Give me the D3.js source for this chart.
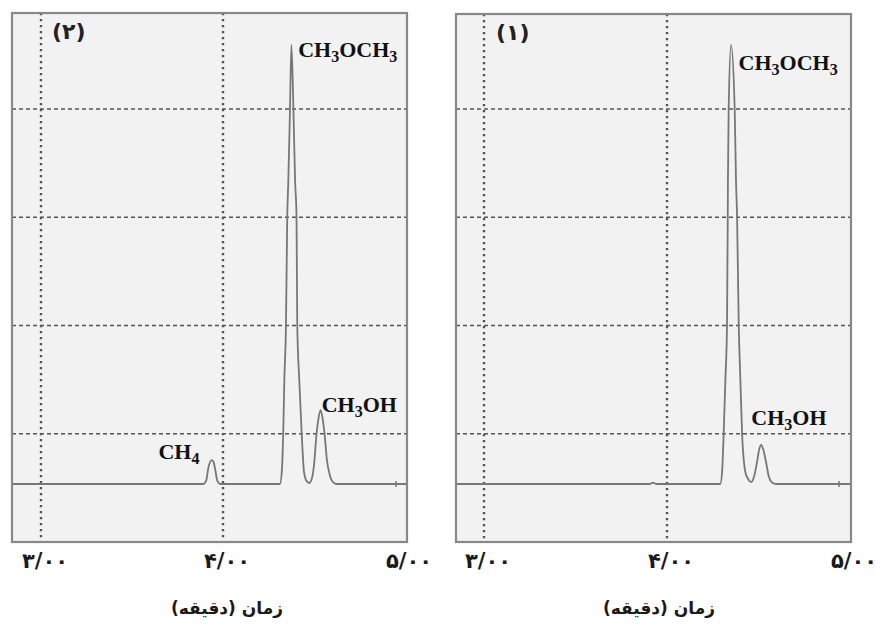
<!DOCTYPE html>
<html>
<head>
<meta charset="utf-8">
<script src="https://cdn.jsdelivr.net/npm/d3@7/dist/d3.min.js"></script>
<style>
  html, body { margin: 0; padding: 0; background: #ffffff; }
  svg { display: block; }
</style>
</head>
<body>
<svg id="chart" width="876" height="624"></svg>
<script>
// ---------------- DATA ----------------
const xTickValues = [3, 4, 5];
const xTickLabels = ["۳/۰۰", "۴/۰۰", "۵/۰۰"];
const xGridValues = [3, 4];
const yGridValues = [1, 2, 3, 4];
const axisTitle = "زمان (دقیقه)";
const panelNames = ["(۲)", "(۱)"];

// Panel (2) chromatogram — time (min), detector signal (grid units)
const trace2Time = [2.84, 3.892, 3.907, 3.919, 3.929, 3.938, 3.948, 3.956, 3.969, 3.984,
  4.313, 4.323, 4.331, 4.337, 4.346, 4.353, 4.359, 4.368, 4.376, 4.387, 4.396, 4.404, 4.408,
  4.419, 4.432, 4.445, 4.456, 4.474, 4.489, 4.500, 4.514, 4.525, 4.536, 4.547, 4.558, 4.571,
  4.588, 4.604, 4.626, 5.01];
const trace2Signal = [0.536, 0.536, 0.564, 0.681, 0.739, 0.757, 0.739, 0.681, 0.564, 0.536,
  0.536, 0.647, 1.016, 1.497, 2.005, 3.002, 3.344, 3.991, 4.591, 3.991, 3.344, 3.002, 2.005,
  1.497, 1.016, 0.647, 0.573, 0.545, 0.591, 0.711, 0.998, 1.145, 1.219, 1.145, 0.998, 0.757,
  0.610, 0.554, 0.536, 0.536];
const trace2EndMark = 4.951;

// Panel (1) chromatogram
const trace1Time = [2.84, 3.907, 3.923, 3.940,
  4.291, 4.301, 4.310, 4.319, 4.328, 4.332, 4.333, 4.337, 4.350, 4.370, 4.377, 4.383, 4.392,
  4.401, 4.410, 4.428, 4.443, 4.461, 4.475, 4.492, 4.503, 4.515, 4.527, 4.541, 4.557, 4.574,
  4.596, 5.01];
const trace1Signal = [0.536, 0.536, 0.548, 0.536,
  0.536, 0.647, 1.016, 1.497, 2.005, 3.002, 3.344, 3.991, 4.591, 3.991, 3.344, 3.002, 2.005,
  1.497, 1.016, 0.647, 0.582, 0.554, 0.600, 0.739, 0.850, 0.896, 0.850, 0.739, 0.600, 0.550,
  0.536, 0.536];
const trace1EndMark = 4.940;

// Peak labels (text, anchor time, anchor signal)
const labels2Text = ["CH4", "CH3OCH3", "CH3OH"];
const labels2Time = [3.645, 4.413, 4.542];
const labels2Signal = [0.764, 4.484, 1.204];
const labels1Text = ["CH3OCH3", "CH3OH"];
const labels1Time = [4.391, 4.461];
const labels1Signal = [4.360, 1.081];

// ---------------- LAYOUT ----------------
const panels = [
  { name: panelNames[0], fx0: 12, fy0: 13, fx1: 407, fy1: 542, x3: 41, x5: 405,
    times: trace2Time, signals: trace2Signal, endMark: trace2EndMark,
    lt: labels2Text, lx: labels2Time, ly: labels2Signal, titleX: 227 },
  { name: panelNames[1], fx0: 456, fy0: 14, fx1: 851, fy1: 542, x3: 484, x5: 850,
    times: trace1Time, signals: trace1Signal, endMark: trace1EndMark,
    lt: labels1Text, lx: labels1Time, ly: labels1Signal, titleX: 659 }
];
const unitPx = 108.25;
const serif = "'Liberation Serif', 'Times New Roman', serif";
const persian = "'DejaVu Sans', sans-serif";

const svg = d3.select("#chart");
const defs = svg.append("defs");

panels.forEach((p, i) => {
  const x = d3.scaleLinear().domain([3, 5]).range([p.x3, p.x5]);
  const y = d3.scaleLinear().domain([0, (p.fy1 - p.fy0) / unitPx]).range([p.fy1, p.fy0]);
  const g = svg.append("g");

  defs.append("clipPath").attr("id", "clip" + i)
    .append("rect").attr("x", p.fx0).attr("y", p.fy0)
    .attr("width", p.fx1 - p.fx0).attr("height", p.fy1 - p.fy0);

  // background
  g.append("rect").attr("x", p.fx0).attr("y", p.fy0)
    .attr("width", p.fx1 - p.fx0).attr("height", p.fy1 - p.fy0)
    .attr("fill", "#f2f2f2");

  // horizontal dashed grid
  g.selectAll(".hg").data(yGridValues).join("line")
    .attr("x1", p.fx0).attr("x2", p.fx1)
    .attr("y1", d => y(d)).attr("y2", d => y(d))
    .attr("stroke", "#555").attr("stroke-width", 1.5)
    .attr("stroke-dasharray", "4,3");

  // vertical dotted grid
  g.selectAll(".vg").data(xGridValues).join("line")
    .attr("x1", d => x(d)).attr("x2", d => x(d))
    .attr("y1", p.fy0).attr("y2", p.fy1)
    .attr("stroke", "#555").attr("stroke-width", 2.4)
    .attr("stroke-dasharray", "2.3,3.7");

  // trace
  const pts = p.times.map((t, k) => [t, p.signals[k]]);
  const line = d3.line().x(d => x(d[0])).y(d => y(d[1])).curve(d3.curveMonotoneX);
  g.append("path").datum(pts)
    .attr("d", line)
    .attr("fill", "none")
    .attr("stroke", "#777")
    .attr("stroke-width", 1.8)
    .attr("stroke-linejoin", "round")
    .attr("clip-path", "url(#clip" + i + ")");

  // end marker
  g.append("line")
    .attr("x1", x(p.endMark)).attr("x2", x(p.endMark))
    .attr("y1", y(p.signals[p.signals.length - 1]) - 3)
    .attr("y2", y(p.signals[p.signals.length - 1]) + 3)
    .attr("stroke", "#777").attr("stroke-width", 1.5);

  // frame
  g.append("rect").attr("x", p.fx0).attr("y", p.fy0)
    .attr("width", p.fx1 - p.fx0).attr("height", p.fy1 - p.fy0)
    .attr("fill", "none").attr("stroke", "#888").attr("stroke-width", 2.2);

  // panel name
  g.append("text")
    .attr("x", p.fx0 + 40).attr("y", p.fy0 + 26)
    .attr("font-family", persian).attr("font-weight", "bold")
    .attr("font-size", 22).attr("fill", "#222")
    .attr("direction", "ltr")
    .text(p.name);

  // peak labels with subscripts
  p.lt.forEach((txt, k) => {
    const t = g.append("text")
      .attr("x", x(p.lx[k])).attr("y", y(p.ly[k]))
      .attr("font-family", serif).attr("font-weight", "bold")
      .attr("font-size", 22).attr("fill", "#111");
    const parts = txt.match(/[A-Za-z]+|\d+/g);
    parts.forEach(part => {
      if (/\d/.test(part)) {
        t.append("tspan").attr("font-size", 16).attr("dy", 5).text(part);
      } else {
        const ts = t.append("tspan").text(part);
        if (t.selectAll("tspan").size() > 1) ts.attr("dy", -5);
      }
    });
  });

  // x tick labels
  g.selectAll(".tl").data(xTickValues).join("text")
    .attr("x", d => x(d) + 4).attr("y", 568)
    .attr("text-anchor", "middle")
    .attr("font-family", persian).attr("font-weight", "bold")
    .attr("font-size", 21).attr("fill", "#1a1a1a")
    .attr("direction", "ltr")
    .text((d, k) => xTickLabels[k]);

  // axis title
  g.append("text")
    .attr("x", p.titleX).attr("y", 614)
    .attr("text-anchor", "middle")
    .attr("font-family", persian).attr("font-weight", "bold")
    .attr("font-size", 17).attr("fill", "#1a1a1a")
    .text(axisTitle);
});
</script>
</body>
</html>
